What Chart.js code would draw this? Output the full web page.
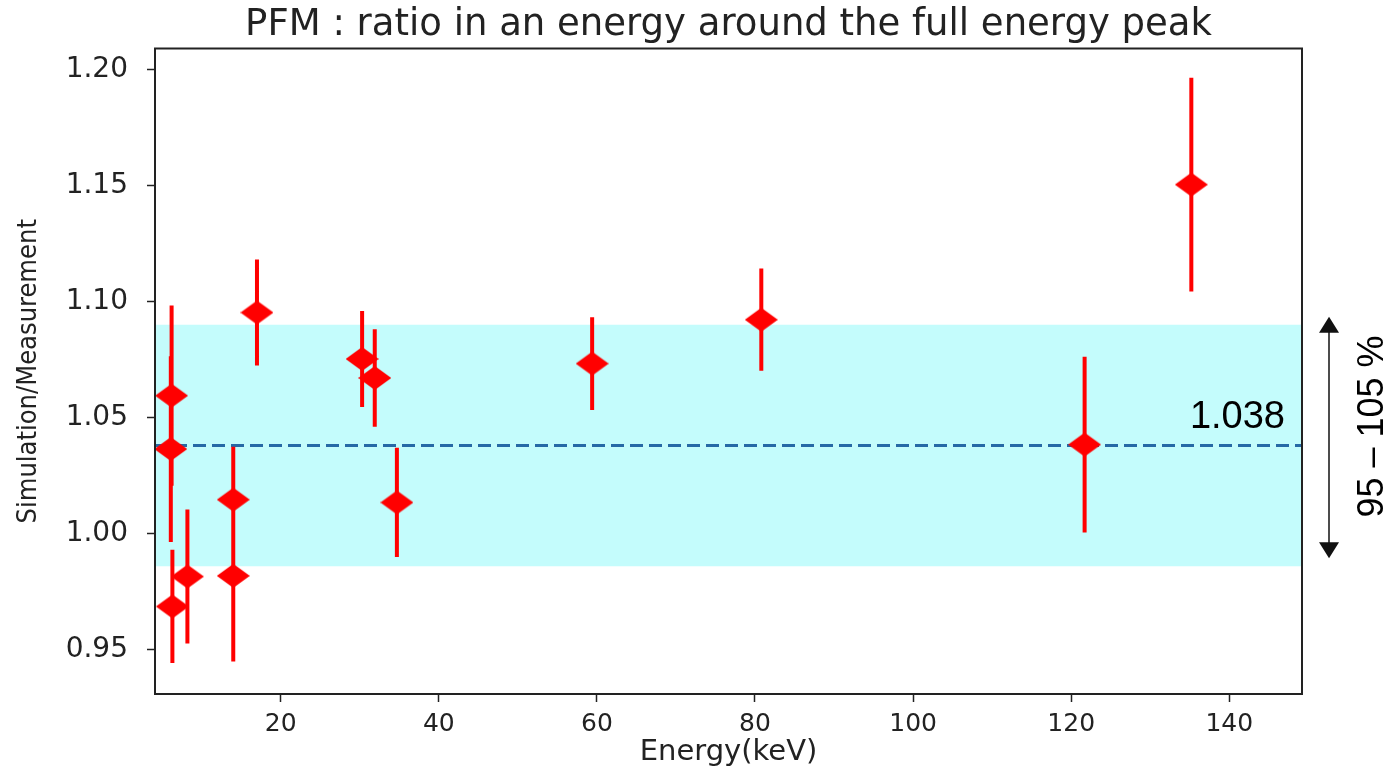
<!DOCTYPE html>
<html>
<head>
<meta charset="utf-8">
<script src="https://cdn.jsdelivr.net/npm/chart.js@4.4.1/dist/chart.umd.min.js"></script>
<style>
  html, body { margin: 0; padding: 0; background: #fff; }
  #wrap { width: 1392px; height: 770px; position: relative; }
</style>
</head>
<body>
<div id="wrap"><canvas id="myChart"></canvas></div>
<script>
// values
const energy = [6.1, 6.2, 6.3, 8.2, 14.0, 14.0, 17.0, 30.3, 31.9, 34.7, 59.4, 80.8, 121.7, 135.2];
const ratio = [1.0365, 1.0595, 0.9687, 0.9816, 1.0147, 0.9819, 1.0953, 1.0753, 1.0671, 1.0135, 1.0733, 1.0922, 1.0384, 1.1504];
const ratioErr = [0.040, 0.0388, 0.0244, 0.0289, 0.0228, 0.0369, 0.0228, 0.0207, 0.021, 0.0235, 0.020, 0.022, 0.0378, 0.046];
const meanRatio = 1.038;
const bandLow = 0.986;
const bandHigh = 1.090;
const xTicks = [20, 40, 60, 80, 100, 120, 140];
const yTicks = [0.95, 1.00, 1.05, 1.10, 1.15, 1.20];
const xRange = [4.1, 149.2];
const yRange = [0.931, 1.209];

// diamond marker (a bit wider than tall, like the picture)
const diamond = document.createElement('canvas');
diamond.width = 33;
diamond.height = 24;
const dctx = diamond.getContext('2d');
dctx.fillStyle = '#ff0000';
dctx.beginPath();
dctx.moveTo(16.5, 0);
dctx.lineTo(33, 12);
dctx.lineTo(16.5, 24);
dctx.lineTo(0, 12);
dctx.closePath();
dctx.fill();

const errorBars = {
    id: 'errorBars',
    beforeDatasetDraw(chart, args) {
        if (args.index !== 0) return;
        const { ctx, scales: { x, y } } = chart;
        ctx.save();
        ctx.strokeStyle = '#ff0000';
        ctx.lineWidth = 4;
        ctx.beginPath();
        energy.forEach((e, i) => {
            const px = x.getPixelForValue(e);
            ctx.moveTo(px, y.getPixelForValue(ratio[i] + ratioErr[i]));
            ctx.lineTo(px, y.getPixelForValue(ratio[i] - ratioErr[i]));
        });
        ctx.stroke();
        ctx.restore();
    }
};

const frameAndNotes = {
    id: 'frameAndNotes',
    afterDraw(chart) {
        const { ctx, chartArea: a, scales: { y } } = chart;
        ctx.save();
        ctx.strokeStyle = '#222';
        ctx.lineWidth = 2;
        ctx.strokeRect(a.left, a.top, a.right - a.left, a.bottom - a.top);

        // mean value label
        ctx.fillStyle = '#000';
        ctx.font = '38px "Liberation Sans", Arial, sans-serif';
        ctx.textAlign = 'right';
        ctx.textBaseline = 'alphabetic';
        ctx.fillText(meanRatio.toFixed(3), a.right - 17, y.getPixelForValue(meanRatio) - 18);

        // double headed arrow next to the band
        const ax = a.right + 27;
        const yTop = y.getPixelForValue(bandHigh) - 8;
        const yBot = y.getPixelForValue(bandLow) - 8;
        ctx.strokeStyle = '#111';
        ctx.lineWidth = 1.5;
        ctx.beginPath();
        ctx.moveTo(ax, yTop + 10);
        ctx.lineTo(ax, yBot - 10);
        ctx.stroke();
        ctx.fillStyle = '#111';
        ctx.beginPath();
        ctx.moveTo(ax, yTop);
        ctx.lineTo(ax + 10, yTop + 16);
        ctx.lineTo(ax - 10, yTop + 16);
        ctx.closePath();
        ctx.fill();
        ctx.beginPath();
        ctx.moveTo(ax, yBot);
        ctx.lineTo(ax + 10, yBot - 16);
        ctx.lineTo(ax - 10, yBot - 16);
        ctx.closePath();
        ctx.fill();

        // rotated band label
        ctx.translate(a.right + 71, y.getPixelForValue((bandLow + bandHigh) / 2) - 19);
        ctx.rotate(-Math.PI / 2);
        ctx.fillStyle = '#000';
        ctx.font = '36px "Liberation Sans", Arial, sans-serif';
        ctx.textAlign = 'center';
        ctx.textBaseline = 'middle';
        ctx.fillText('95 \u2013 105 %', 0, 0);
        ctx.restore();
    }
};

const ctx = document.getElementById('myChart').getContext('2d');
const myChart = new Chart(ctx, {
    type: 'scatter',
    data: {
        datasets: [
            {
                label: 'ratio',
                data: energy.map((e, i) => ({ x: e, y: ratio[i] })),
                pointStyle: diamond,
                pointRadius: 12,
                order: 0
            },
            {
                type: 'line',
                label: 'mean',
                data: [{ x: xRange[0], y: meanRatio }, { x: xRange[1], y: meanRatio }],
                borderColor: '#2669a6',
                borderWidth: 3,
                borderDash: [13, 6],
                pointRadius: 0,
                fill: false,
                order: 1
            },
            {
                type: 'line',
                label: '95 - 105 %',
                data: [{ x: xRange[0], y: bandHigh }, { x: xRange[1], y: bandHigh }],
                borderColor: 'rgba(0,0,0,0)',
                borderWidth: 0,
                backgroundColor: '#c4fcfc',
                pointRadius: 0,
                fill: { value: bandLow },
                order: 2
            }
        ]
    },
    options: {
        animation: false,
        responsive: true,
        maintainAspectRatio: false,
        devicePixelRatio: 1,
        layout: {
            padding: { left: 0, right: 90, top: 0, bottom: 0 }
        },
        plugins: {
            legend: { display: false },
            tooltip: { enabled: false },
            title: {
                display: true,
                text: 'PFM : ratio in an energy around the full energy peak',
                fullSize: false,
                color: '#222',
                font: { family: "'DejaVu Sans'", size: 37, weight: 'normal' },
                padding: { top: 3, bottom: 1.1 }
            }
        },
        scales: {
            x: {
                type: 'linear',
                min: xRange[0],
                max: xRange[1],
                afterFit: (s) => { s.height = 76; },
                afterBuildTicks: (s) => { s.ticks = xTicks.map(v => ({ value: v })); },
                ticks: {
                    color: '#222',
                    padding: 7,
                    maxRotation: 0,
                    font: { family: "'DejaVu Sans'", size: 25 }
                },
                grid: { drawOnChartArea: false, drawTicks: true, tickLength: 8, color: '#222', tickWidth: 1.5 },
                border: { display: true, color: '#222', width: 2 },
                title: {
                    display: true,
                    text: 'Energy(keV)',
                    color: '#222',
                    font: { family: "'DejaVu Sans'", size: 29 },
                    padding: { top: 0, bottom: 0 }
                }
            },
            y: {
                type: 'linear',
                min: yRange[0],
                max: yRange[1],
                afterFit: (s) => { s.width = 155; },
                afterBuildTicks: (s) => { s.ticks = yTicks.map(v => ({ value: v })); },
                ticks: {
                    color: '#222',
                    padding: 19,
                    font: { family: "'DejaVu Sans'", size: 28 },
                    callback: (v) => Number(v).toFixed(2)
                },
                grid: { drawOnChartArea: false, drawTicks: true, tickLength: 8, color: '#222', tickWidth: 1.5 },
                border: { display: true, color: '#222', width: 2 },
                title: {
                    display: true,
                    text: 'Simulation/Measurement',
                    color: '#222',
                    font: { family: "'DejaVu Sans Condensed', 'DejaVu Sans'", size: 27 },
                    padding: { top: 13, bottom: 0 }
                }
            }
        }
    },
    plugins: [errorBars, frameAndNotes]
});
</script>
</body>
</html>
